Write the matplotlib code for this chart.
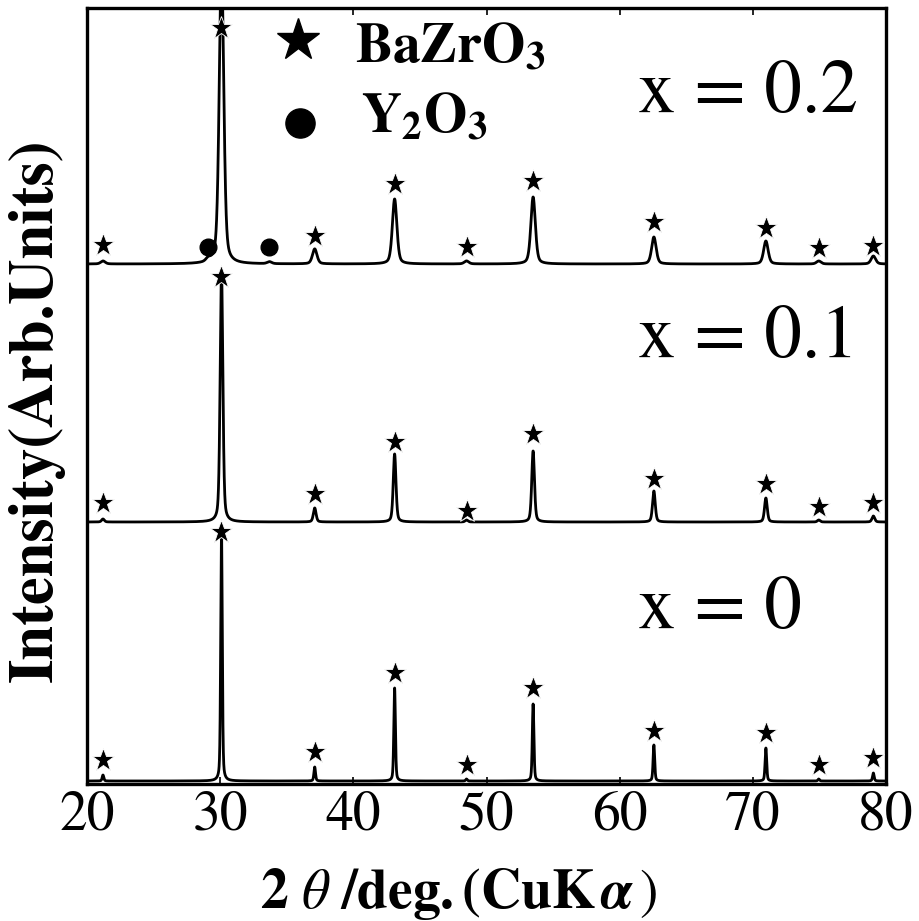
import numpy as np
import matplotlib
matplotlib.use("Agg")
import matplotlib.pyplot as plt

plt.rcParams["font.family"] = ["STIXGeneral", "DejaVu Serif"]
plt.rcParams["mathtext.fontset"] = "stix"

# BaZrO3 reflections (2theta, deg)
bzo_pos = [21.2, 30.1, 37.1, 43.1, 48.5, 53.5, 62.57, 70.98, 74.95, 79.05]
# Y2O3 reflections
y2o3_pos = [29.1, 33.7]

samples = ["x = 0", "x = 0.1", "x = 0.2"]
offsets = [3, 262, 520]
fwhm = [0.14, 0.24, 0.40]

# peak intensities above each baseline (arb. units)
bzo_int = [
    [6, 248, 14, 93, 2, 77, 36, 33, 2, 8],
    [3, 250, 14, 68, 2, 71, 31, 24, 2, 6],
    [3, 300, 15, 65, 3, 67, 27, 23, 3, 8],
]
y2o3_int = [
    [0, 0],
    [0, 0],
    [3, 2],
]
# heights of the phase markers above each baseline
star_h = [
    [21, 249, 29, 108, 16, 93, 50, 48, 16, 23],
    [19, 245, 28, 80, 11, 88, 43, 38, 15, 19],
    [19, 236, 28, 80, 17, 83, 42, 36, 16, 18],
]
circle_h = [17, 17]

label_y = [156, 427, 672]
label_x = 61.4


def profile(tt, pos, amp, w):
    y = np.zeros_like(tt)
    g = w / 2.0
    for p, a in zip(pos, amp):
        lor = 1.0 / (1.0 + ((tt - p) / g) ** 2)
        gau = np.exp(-np.log(2) * ((tt - p) / g) ** 2)
        y += a * (0.4 * lor + 0.6 * gau)
    return y


fig = plt.figure(figsize=(9.19, 9.21), dpi=100)
ax = fig.add_axes([87 / 919, 1 - 784 / 921, 799 / 919, 776 / 921])

tt = np.arange(20.0, 80.0001, 0.005)
for i in range(3):
    y = offsets[i] + profile(tt, bzo_pos, bzo_int[i], fwhm[i])
    y += profile(tt, y2o3_pos, y2o3_int[i], fwhm[i])
    ax.plot(tt, y, color="black", lw=2.0, zorder=2)
    sy = [offsets[i] + h for h in star_h[i]]
    ax.plot(bzo_pos, sy, linestyle="none", marker="*", markersize=17,
            color="black", markeredgecolor="white", markeredgewidth=0.6, zorder=4)
    if any(y2o3_int[i]):
        cy = [offsets[i] + h for h in circle_h]
        ax.plot(y2o3_pos, cy, linestyle="none", marker="o", markersize=12,
                color="black", zorder=4)
    ax.text(label_x, label_y[i], samples[i], fontsize=54, ha="left",
            va="baseline")

# phase key
ax.plot([35.85], [744], marker="*", markersize=32, color="black", linestyle="none")
ax.plot([36.0], [661], marker="o", markersize=21, color="black", linestyle="none")
ax.text(40.1, 722, r"$\mathbf{BaZrO}_{\mathbf{3}}$", fontsize=40, ha="left", va="baseline")
ax.text(40.6, 652, r"$\mathbf{Y}_{\mathbf{2}}\mathbf{O}_{\mathbf{3}}$", fontsize=40,
        ha="left", va="baseline")

ax.set_xlim(20, 80)
ax.set_ylim(0, 776)
ax.set_xticks([20, 30, 40, 50, 60, 70, 80])
ax.set_yticks([])
ax.tick_params(axis="x", direction="in", top=True, length=5, width=1.2,
               labelsize=40, pad=5)
for s in ax.spines.values():
    s.set_linewidth(2.4)

fig.text(459 / 919, 1 - 908 / 921,
         r"$\mathbf{2}\ \theta\ \mathbf{/deg.(CuK}\,\boldsymbol{\alpha}\,)$",
         fontsize=40, ha="center", va="baseline")
fig.text(36 / 919, 1 - 410 / 921, "Intensity(Arb.Units)", rotation=90, fontsize=45,
         fontweight="bold", ha="center", va="center")

fig.savefig("out.png", dpi=100)
